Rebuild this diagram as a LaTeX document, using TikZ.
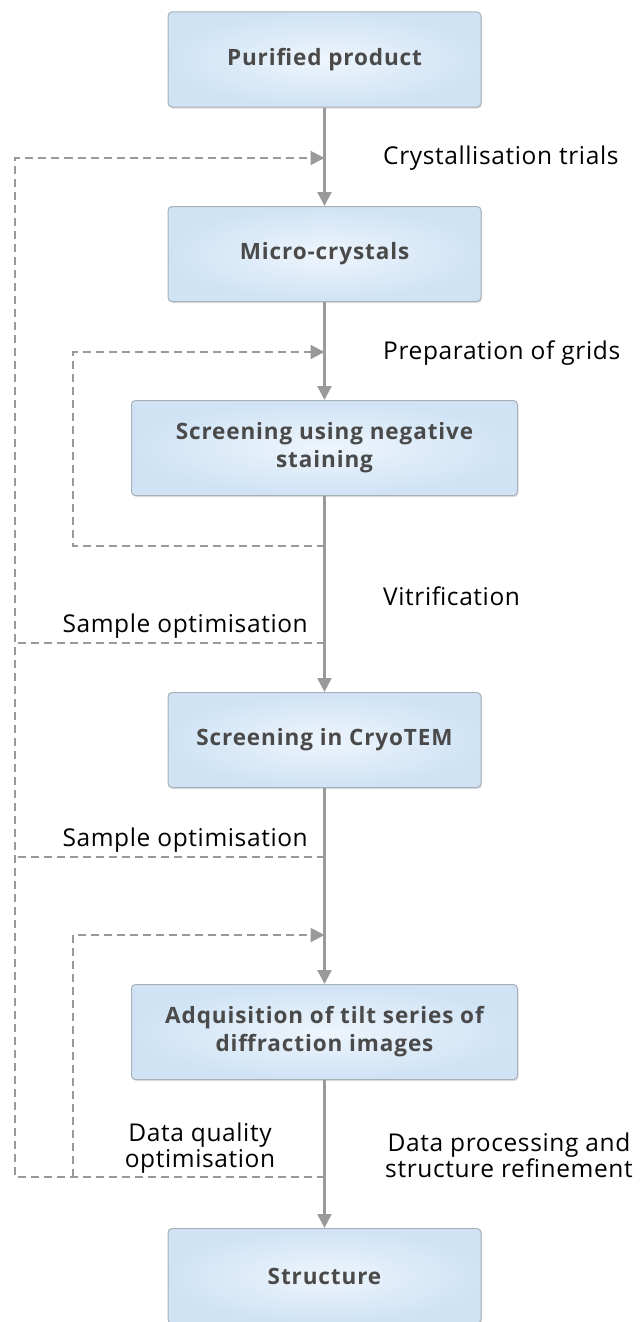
\documentclass[tikz,border=0pt]{standalone}
\usepackage{fontspec}
\setmainfont{Open Sans}
\newfontfamily\labelfont[LetterSpace=2.5]{Open Sans}
\newfontfamily\boxfont[LetterSpace=4]{Open Sans}
\usetikzlibrary{arrows.meta,shadows,calc}
\definecolor{boxedge}{HTML}{A8B0B8}
\definecolor{boxin}{HTML}{EEF5FC}
\definecolor{boxout}{HTML}{CFE3F5}
\definecolor{boxtext}{HTML}{4A4A4A}
\definecolor{linegray}{HTML}{9A9A9A}
\tikzset{
  procbox/.style={draw=boxedge, line width=1pt, rounded corners=4pt,
    inner color=boxin, outer color=boxout,
    drop shadow={shadow xshift=1pt, shadow yshift=-1.5pt, opacity=0.25},
    minimum height=95pt, text=boxtext, align=center,
    font=\boxfont\fontsize{22.5}{28}\selectfont\bfseries},
  widebox/.style={procbox, minimum width=386pt},
  narrowbox/.style={procbox, minimum width=313pt},
  mainflow/.style={draw=linegray, line width=2.4pt,
    -{Triangle[length=14pt,width=14pt]}},
  feedback/.style={draw=linegray, line width=2pt, dash pattern=on 8pt off 5pt},
  feedarrow/.style={feedback, -{Triangle[length=14pt,width=14pt]}},
  steplabel/.style={text=black, font=\labelfont\fontsize{24.5}{26}\selectfont, align=center, inner sep=0pt}
}
\begin{document}
\begin{tikzpicture}[x=1pt,y=-1pt]
\useasboundingbox (0,0) rectangle (640,1322);
% boxes
\node[narrowbox] (b1) at (324.5,59.5) {Purified product};
\node[narrowbox] (b2) at (324.5,254) {Micro-crystals};
\node[widebox]   (b3) at (324.5,448) {Screening using negative\\staining};
\node[narrowbox] (b4) at (324.5,740) {Screening in CryoTEM};
\node[widebox]   (b5) at (324.5,1032) {Adquisition of tilt series of\\diffraction images};
\node[narrowbox] (b6) at (324.5,1276) {Structure};
% main flow
\draw[mainflow] (b1.south) -- (b2.north);
\draw[mainflow] (b2.south) -- (b3.north);
\draw[mainflow] (b3.south) -- (b4.north);
\draw[mainflow] (b4.south) -- (b5.north);
\draw[mainflow] (b5.south) -- (b6.north);
% coordinates on main line
\coordinate (m158) at (324.5,158);
\coordinate (m352) at (324.5,352);
\coordinate (m546) at (324.5,546);
\coordinate (m643) at (324.5,643);
\coordinate (m857) at (324.5,857);
\coordinate (m935) at (324.5,935);
\coordinate (m1177) at (324.5,1177);
\coordinate (outerL) at (15,0);
\coordinate (innerL) at (73,0);
% feedback loops
\draw[feedarrow] (m546) -| (innerL |- m546) -- (innerL |- m352) -- (m352);
\draw[feedarrow] (m1177) -- (outerL |- m1177) -- (outerL |- m158) -- (m158);
\draw[feedback] (m643) -- (outerL |- m643);
\draw[feedback] (m857) -- (outerL |- m857);
\draw[feedarrow] (innerL |- m1177) -- (innerL |- m935) -- (m935);
% labels
\node[steplabel, anchor=west] (l1) at (383,158) {Crystallisation trials};
\node[steplabel, anchor=west] (l2) at (383,353) {Preparation of grids};
\node[steplabel, anchor=west] (l3) at (383,596) {Vitrification};
\node[steplabel, anchor=east] (l4) at (308,626) {Sample optimisation};
\node[steplabel, anchor=east] (l5) at (308,840) {Sample optimisation};
\node[steplabel] (l6) at (200,1148) {Data quality\\optimisation};
\node[steplabel] (l7) at (509,1155) {Data processing and\\structure refinement};
\end{tikzpicture}
\end{document}
